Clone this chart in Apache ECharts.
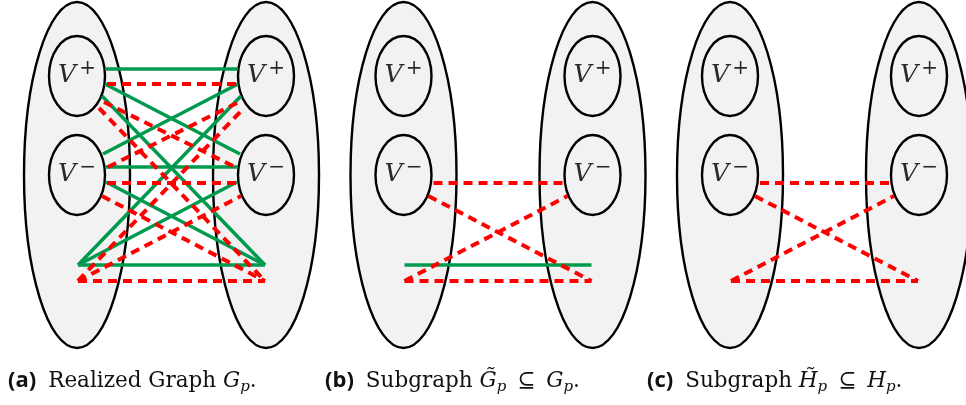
<!DOCTYPE html>
<html><head><meta charset="utf-8">
<script src="https://cdn.jsdelivr.net/npm/echarts@6/dist/echarts.min.js"></script>
<style>html,body{margin:0;padding:0;background:#fff}#c{width:966px;height:405px}</style>
</head><body><div id="c"></div>
<script>
// ---------------- data ----------------
const panelTags = ['(a)', '(b)', '(c)'];
const captionBodies = [
  '{rm|Realized Graph }{it|G}{sub|p}{rm|.}',
  '{rm|Subgraph }{it|G\u0303}{sub|p}{sp| }{rm|\u2286}{sp| }{it|G}{sub|p}{rm|.}',
  '{rm|Subgraph }{it|H\u0303}{sub|p}{sp| }{rm|\u2286}{sp| }{it|H}{sub|p}{rm|.}'
];
const nodeKinds = ['+', '-'];            // the two small vertex sets in each big set
const nodeSigns = ['+', '\u2212'];       // superscripts of V
// edges: [left endpoint kind, right endpoint kind, type] ; b = bottom point, g = solid green, r = dashed red
const edgesA = [
  ['+','+','g'],['+','-','g'],['+','b','g'],
  ['-','+','g'],['-','-','g'],['-','b','g'],
  ['b','+','g'],['b','-','g'],['b','b','g'],
  ['+','+','r'],['+','-','r'],['+','b','r'],
  ['-','+','r'],['-','-','r'],['-','b','r'],
  ['b','+','r'],['b','-','r'],['b','b','r']
];
const edgesB = [['b','b','g'],['-','-','r'],['-','b','r'],['b','-','r'],['b','b','r']];
const edgesC = [['-','-','r'],['-','b','r'],['b','-','r'],['b','b','r']];
const panelEdges = [edgesA, edgesB, edgesC];

// ---------------- layout ----------------
const PANEL_X = [77, 403.5, 730];
const GAP = 189;
const BIG = {cy: 175, rx: 53, ry: 173};
const SMALL = {cy: {'+': 76, '-': 175}, rx: 28, ry: 40};
const CAP_X = [8, 325, 647], CAP_Y = 381;
const PORTS = {
  g: {'+': {'+':[28,69], '-':[28,84], 'b':[25,96]},
      '-': {'+':[26,154], '-':[28,167], 'b':[29,182]},
      'b': {'+':[1,265], '-':[1,265], 'b':[1,265]}},
  r: {'+': {'+':[30,84], '-':[27,102], 'b':[22,108]},
      '-': {'+':[31,167], '-':[30,183], 'b':[25,196]},
      'b': {'+':[1,281], '-':[1,281], 'b':[1,281]}}
};
const GREEN = '#009a4e', RED = '#ff0000';

const bigData = [], smallData = [], labelData = [], greenData = [], redData = [], capData = [];
PANEL_X.forEach((px, p) => {
  [px, px + GAP].forEach(cx => {
    bigData.push([cx, BIG.cy]);
    nodeKinds.forEach((k, i) => {
      smallData.push([cx, SMALL.cy[k]]);
      labelData.push([cx, SMALL.cy[k], i]);
    });
  });
  panelEdges[p].forEach(([a, b, t]) => {
    const pl = PORTS[t][a][b], pr = PORTS[t][b][a];
    const row = [px + pl[0], pl[1], px + GAP - pr[0], pr[1]];
    (t === 'g' ? greenData : redData).push(row);
  });
  capData.push([CAP_X[p], CAP_Y, p]);
});

function ellipseItem(rx, ry) {
  return function (params, api) {
    const c = api.coord([api.value(0), api.value(1)]);
    return {type: 'ellipse', shape: {cx: c[0], cy: c[1], rx: rx, ry: ry},
      style: {fill: '#f2f2f2', stroke: '#000', lineWidth: 2.4}};
  };
}
function lineItem(style) {
  return function (params, api) {
    const a = api.coord([api.value(0), api.value(1)]);
    const b = api.coord([api.value(2), api.value(3)]);
    return {type: 'line', shape: {x1: a[0], y1: a[1], x2: b[0], y2: b[1]}, style: style};
  };
}

const chart = echarts.init(document.getElementById('c'), null, {renderer: 'canvas'});
chart.setOption({
  backgroundColor: '#fff',
  animation: false,
  grid: {left: 0, right: 0, top: 0, bottom: 0},
  xAxis: {type: 'value', min: 0, max: 966, show: false},
  yAxis: {type: 'value', min: 0, max: 405, inverse: true, show: false},
  series: [
    {type: 'custom', data: bigData, renderItem: ellipseItem(BIG.rx, BIG.ry), silent: true, z: 1},
    {type: 'custom', data: smallData, renderItem: ellipseItem(SMALL.rx, SMALL.ry), silent: true, z: 2},
    {type: 'custom', data: labelData, silent: true, z: 3,
      renderItem: function (params, api) {
        const c = api.coord([api.value(0), api.value(1)]);
        return {type: 'text', x: c[0], y: c[1] - 1,
          style: {text: '{v|V}{g| }{s|' + nodeSigns[api.value(2)] + '}', align: 'center', verticalAlign: 'middle',
            rich: {
              v: {fontFamily: 'DejaVu Serif', fontStyle: 'italic', fontSize: 25, lineHeight: 32, fill: '#2a2a2a'},
              g: {fontSize: 4, width: 3, lineHeight: 4},
              s: {fontFamily: 'DejaVu Serif', fontSize: 20, lineHeight: 20, verticalAlign: 'top', fill: '#2a2a2a'}
            }}};
      }},
    {type: 'custom', data: greenData, silent: true, z: 4,
      renderItem: lineItem({stroke: GREEN, lineWidth: 3.5, lineCap: 'butt'})},
    {type: 'custom', data: redData, silent: true, z: 5,
      renderItem: lineItem({stroke: RED, lineWidth: 4, lineDash: [9, 6], lineCap: 'butt'})},
    {type: 'custom', data: capData, silent: true, z: 6,
      renderItem: function (params, api) {
        const c = api.coord([api.value(0), api.value(1)]);
        const p = api.value(2);
        return {type: 'text', x: c[0], y: c[1],
          style: {text: '{tag|' + panelTags[p] + '}{gap| }' + captionBodies[p], align: 'left', verticalAlign: 'middle',
            fontFamily: 'DejaVu Serif', fontSize: 21.5, fill: '#111',
            rich: {
              tag: {fontFamily: 'Open Sans', fontWeight: 'bold', fontSize: 22, lineHeight: 28, fill: '#111'},
              gap: {fontSize: 10, width: 12, lineHeight: 10},
              sp: {fontSize: 10, width: 11, lineHeight: 10},
              rm: {fontFamily: 'DejaVu Serif', fontSize: 21.5, lineHeight: 28, fill: '#111'},
              it: {fontFamily: 'DejaVu Serif', fontStyle: 'italic', fontSize: 21.5, lineHeight: 28, fill: '#111'},
              sub: {fontFamily: 'DejaVu Serif', fontStyle: 'italic', fontSize: 15, lineHeight: 15, verticalAlign: 'bottom', fill: '#111'}
            }}};
      }}
  ]
});
</script></body></html>
